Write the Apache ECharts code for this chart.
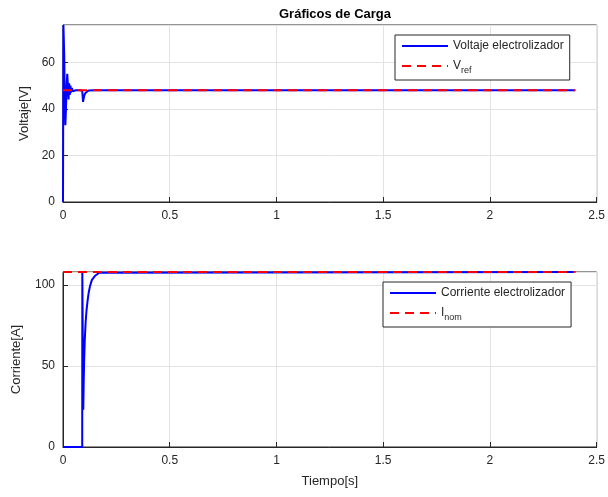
<!DOCTYPE html>
<html>
<head>
<meta charset="utf-8">
<script src="https://cdn.jsdelivr.net/npm/echarts@6/dist/echarts.min.js"></script>
<style>html,body{margin:0;padding:0;background:#fff}#c{width:608px;height:497px}</style>
</head>
<body>
<div id="c"></div>
<script>
// ---- data ----
var xTicks = [0, 0.5, 1, 1.5, 2, 2.5];
var voltTime = [0, 0.002, 0.004, 0.006, 0.008, 0.011, 0.014, 0.017, 0.020, 0.023, 0.026, 0.029, 0.032, 0.035, 0.038, 0.042, 0.046, 0.05, 0.06, 0.08, 0.09, 0.094, 0.097, 0.1, 0.105, 0.11, 0.12, 0.15, 2.4];
var voltValues = [0, 76, 76, 62, 45, 33, 40, 50, 55, 50, 44, 51, 46, 50, 47, 49, 47.5, 48.2, 48, 48, 47.8, 43, 44.5, 45.8, 46.8, 47.4, 47.9, 48, 48];
var vrefTime = [0, 2.4];
var vrefValues = [48, 48];
var currTime = [0, 0.09, 0.0905, 0.0925, 0.095, 0.097, 0.099, 0.102, 0.106, 0.11, 0.115, 0.12, 0.126, 0.135, 0.149, 0.17, 2.4];
var currValues = [0, 0, 108, 70, 23, 40, 53, 66, 77, 84, 90, 95, 99, 103, 105.5, 107.5, 108];
var inomTime = [0, 2.4];
var inomValues = [108, 108];

function pairs(t, v) { return t.map(function (x, i) { return [x, v[i]]; }); }

var FONT = 'Liberation Sans, Arial, sans-serif';
var TXT = '#262626';

function xAxis(grid, showName) {
  return {
    type: 'value', gridIndex: grid, min: 0, max: 2.5, interval: 0.5,
    axisLine: { show: true, onZero: false, lineStyle: { color: TXT, width: 1 } },
    axisTick: { show: true, inside: true, length: 5, lineStyle: { color: TXT } },
    axisLabel: { color: TXT, fontFamily: FONT, fontSize: 12, margin: 8 },
    splitLine: { show: true, lineStyle: { color: '#e3e3e3', width: 1 } },
    name: showName ? 'Tiempo[s]' : '', nameLocation: 'middle', nameGap: 28,
    nameTextStyle: { color: TXT, fontFamily: FONT, fontSize: 13 }
  };
}
function yAxis(grid, max, interval, name, gap) {
  return {
    type: 'value', gridIndex: grid, min: 0, max: max, interval: interval,
    axisLine: { show: true, lineStyle: { color: TXT, width: 1 } },
    axisTick: { show: true, inside: true, length: 5, lineStyle: { color: TXT } },
    axisLabel: { color: TXT, fontFamily: FONT, fontSize: 12, margin: 8, showMaxLabel: false },
    splitLine: { show: true, lineStyle: { color: '#e3e3e3', width: 1 } },
    name: name, nameLocation: 'middle', nameGap: gap,
    nameTextStyle: { color: TXT, fontFamily: FONT, fontSize: 13 }
  };
}

var rich = {
  m: { fontFamily: FONT, fontSize: 12, color: TXT },
  s: { fontFamily: FONT, fontSize: 9, color: TXT, padding: [9, 0, 0, 0] }
};

var legendCommon = {
  orient: 'vertical', itemWidth: 46, itemHeight: 10, itemGap: 8,
  padding: [5, 6, 5, 6], backgroundColor: '#fff', borderColor: TXT, borderWidth: 1,
  itemStyle: { opacity: 0 },
  textStyle: { fontFamily: FONT, fontSize: 12, color: TXT, rich: rich }
};

var chart = echarts.init(document.getElementById('c'), null, { renderer: 'canvas' });
chart.setOption({
  animation: false,
  backgroundColor: '#ffffff',
  title: {
    text: 'Gráficos de Carga', left: 330, top: 3, textAlign: 'center',
    textStyle: { fontFamily: FONT, fontSize: 13, fontWeight: 'bold', color: '#000' }
  },
  grid: [
    { left: 63, top: 25, width: 534, height: 177, show: true, borderColor: TXT, borderWidth: 1, backgroundColor: 'transparent' },
    { left: 63, top: 272, width: 534, height: 175, show: true, borderColor: TXT, borderWidth: 1, backgroundColor: 'transparent' }
  ],
  xAxis: [xAxis(0, false), xAxis(1, true)],
  yAxis: [yAxis(0, 76, 20, 'Voltaje[V]', 32), yAxis(1, 108, 50, 'Corriente[A]', 40)],
  legend: [
    Object.assign({}, legendCommon, {
      data: ['Voltaje electrolizador', 'Vref'], left: 395, top: 35,
      formatter: function (n) { return n === 'Vref' ? '{m|V}{s|ref}' : '{m|' + n + '}'; }
    }),
    Object.assign({}, legendCommon, {
      data: ['Corriente electrolizador', 'Inom'], left: 383, top: 282,
      formatter: function (n) { return n === 'Inom' ? '{m|I}{s|nom}' : '{m|' + n + '}'; }
    })
  ],
  series: [
    { name: 'Voltaje electrolizador', type: 'line', xAxisIndex: 0, yAxisIndex: 0, data: pairs(voltTime, voltValues),
      showSymbol: false, symbol: 'none', lineStyle: { color: '#0000ff', width: 2 }, itemStyle: { color: '#0000ff' }, clip: true },
    { name: 'Vref', type: 'line', xAxisIndex: 0, yAxisIndex: 0, data: pairs(vrefTime, vrefValues),
      showSymbol: false, symbol: 'none', lineStyle: { color: '#ff0000', width: 2, type: [9, 6] }, itemStyle: { color: '#ff0000' }, z: 3 },
    { name: 'Corriente electrolizador', type: 'line', xAxisIndex: 1, yAxisIndex: 1, data: pairs(currTime, currValues),
      showSymbol: false, symbol: 'none', lineStyle: { color: '#0000ff', width: 2 }, itemStyle: { color: '#0000ff' }, clip: true },
    { name: 'Inom', type: 'line', xAxisIndex: 1, yAxisIndex: 1, data: pairs(inomTime, inomValues),
      showSymbol: false, symbol: 'none', lineStyle: { color: '#ff0000', width: 2, type: [9, 6] }, itemStyle: { color: '#ff0000' }, z: 3, clip: false }
  ]
});
</script>
</body>
</html>
